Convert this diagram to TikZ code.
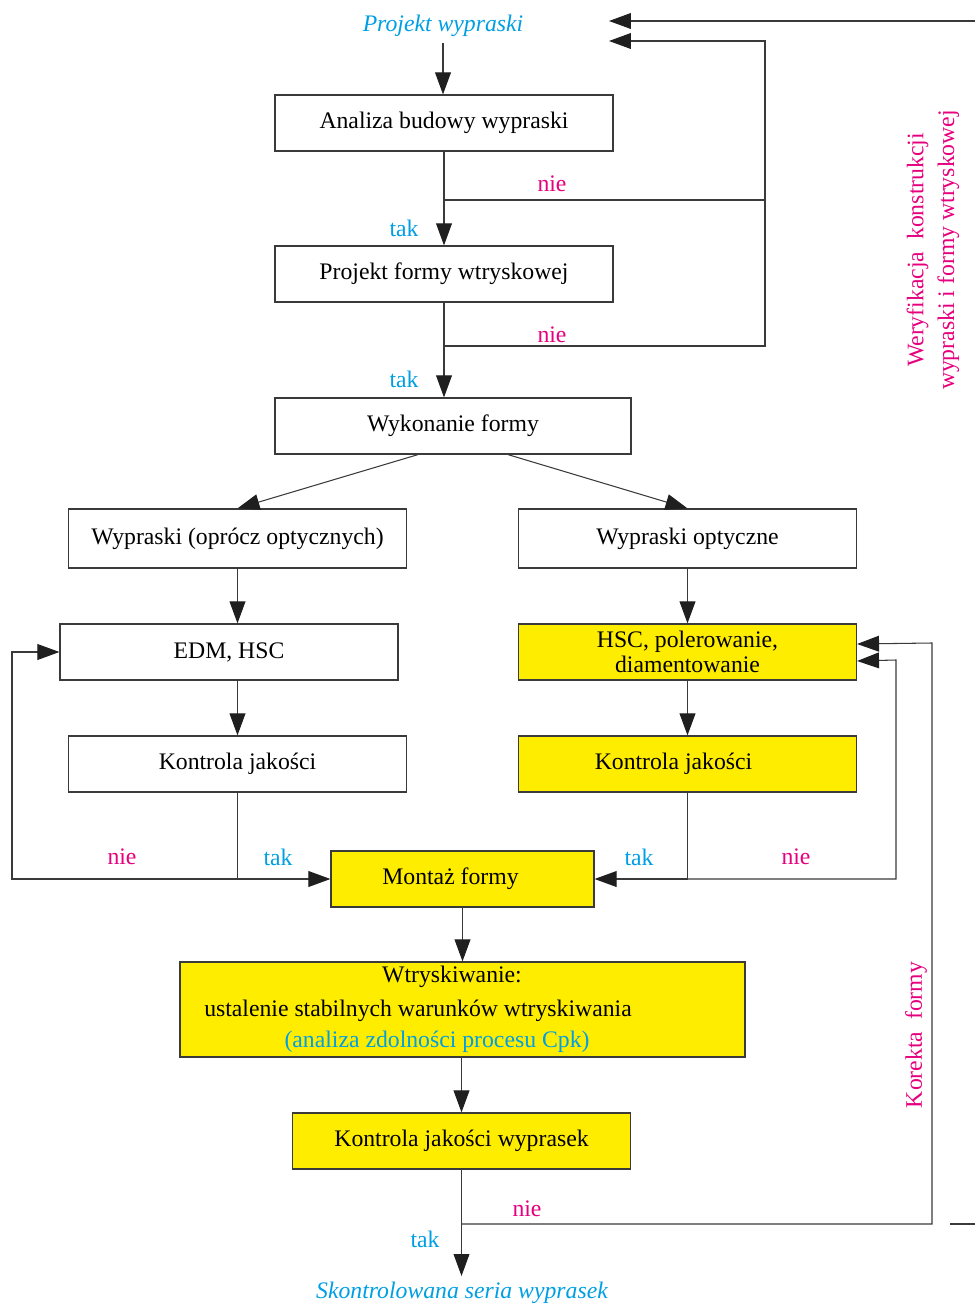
\documentclass[tikz,border=0pt]{standalone}
\usepackage{fontspec}
\setmainfont{Liberation Serif}
\usetikzlibrary{arrows.meta,positioning,calc}
\definecolor{zolty}{HTML}{FFED00}
\definecolor{roz}{HTML}{E6007E}
\definecolor{niebieski}{HTML}{009FE3}
\definecolor{linia}{HTML}{3A3A3A}
\newcommand{\rozm}{\fontsize{13.5}{16}\selectfont}
\tikzset{
  >={Triangle[length=12.5pt,width=9pt,color=black!88]},
  box/.style  = {draw=linia, line width=0.7pt, minimum width=6.76cm, minimum height=1.12cm, inner sep=2pt, align=center},
  boxy/.style = {box, fill=zolty},
  pol/.style  = {draw=linia, line width=0.6pt},
  tak/.style  = {text=niebieski, inner sep=1pt},
  nie/.style  = {text=roz, inner sep=1pt},
  wej/.style  = {text=niebieski, font=\rozm\itshape},
  opis/.style = {text=roz, rotate=90, align=center, font=\fontsize{13.5}{17.5}\selectfont},
  every node/.style = {font=\rozm}
}

\begin{document}
\begin{tikzpicture}[x=0.02cm, y=-0.02cm]
\useasboundingbox (0,0) rectangle (975,1304);

% wejscie i wyjscie
\node[wej] (start) at (443,26) {Projekt wypraski};
\node[wej] (koniec) at (462,1293) {Skontrolowana seria wyprasek};

% konstrukcja
\node[box] (analiza) at (444,123) {Analiza budowy wypraski};
\node[box] (projekt) at (444,274) {Projekt formy wtryskowej};
\node[box, minimum width=7.12cm] (wyk) at (453,426) {Wykonanie formy};

% dwie galezie
\node[box, minimum height=1.18cm] (wypr) at (237.5,538.5) {Wypraski (oprócz optycznych)};
\node[box, minimum height=1.18cm] (wopt) at (687.5,538.5) {Wypraski optyczne};
\node[box] (edm) at (229,652) {EDM, HSC};
\node[boxy] (hsc) at (687.5,652) {HSC, polerowanie,\\[-1.5pt]diamentowanie};
\node[box] (kj1) at (237.5,764) {Kontrola jakości};
\node[boxy] (kj2) at (687.5,764) {Kontrola jakości\hspace*{0.56cm}};

% montaz i wtryskiwanie
\node[boxy, minimum width=5.26cm] (montaz) at (462.5,879) {Montaż formy\hspace*{0.48cm}};
\node[boxy, minimum width=11.3cm, minimum height=1.9cm] (wtrysk) at (462.5,1009.5) {};
\node (w1) at (452,977) {Wtryskiwanie:};
\node (w2) at (418,1011) {ustalenie stabilnych warunków wtryskiwania};
\node[text=niebieski] (w3) at (437,1042) {(analiza zdolności procesu Cpk)};
\node[boxy] (kjw) at (461.5,1141) {Kontrola jakości wyprasek};

% punkty petli
\coordinate (wer0) at (975,21);
\coordinate (wer1) at (609,21);
\coordinate (wer2) at (609,41);
\coordinate (p1) at (765,0);
\coordinate (p2) at (896,0);
\coordinate (p3) at (932,0);
\coordinate (p4) at (12,0);
\coordinate (b1) at (analiza.south |- 0,200);
\coordinate (b2) at (projekt.south |- 0,346);
\coordinate (b3) at (kj1.south |- montaz.west);
\coordinate (b4) at (kj2.south |- montaz.east);
\coordinate (b5) at (kjw.south |- 0,1224);
\coordinate (r1) at (950,1224);
\coordinate (r2) at (975,1224);

% polaczenia
\draw[pol,->] (start) -- (start |- analiza.north);
\draw[pol,->] (analiza) -- (projekt);
\draw[pol,->] (b1) -- (b1 -| p1) -- (p1 |- wer2) -- (wer2);
\draw[pol,->] (projekt.south) -- (projekt.south |- wyk.north);
\draw[pol] (b2) -- (b2 -| p1) -- (p1 |- b1);
\draw[pol,->] (wer0) -- (wer1);

\draw[pol,->] ([xshift=-0.7cm]wyk.south) -- (wypr.north);
\draw[pol,->] ([xshift=1.1cm]wyk.south) -- (wopt.north);
\draw[pol,->] (wypr.south) -- (wypr.south |- edm.north);
\draw[pol,->] (wopt) -- (hsc);
\draw[pol,->] (wypr.south |- edm.south) -- (kj1.north);
\draw[pol,->] (hsc) -- (kj2);

\draw[pol,->] (kj1.south) -- (b3) -- (montaz.west);
\draw[pol,->] (b3) -- (b3 -| p4) -- (p4 |- edm.west) -- (edm.west);
\draw[pol,->] (kj2.south) -- (b4) -- (montaz.east);
\draw[pol,->] (b4) -- (b4 -| p2) -- (p2 |- 0,660) -- ([yshift=-0.18cm]hsc.east);

\draw[pol,->] (montaz) -- (wtrysk);
\draw[pol,->] (kjw.north |- wtrysk.south) -- (kjw.north);
\draw[pol,->] (kjw.south) -- (kjw.south |- koniec.north);
\draw[pol,->] (b5) -- (b5 -| p3) -- (p3 |- 0,643) -- ([yshift=0.16cm]hsc.east);
\draw[pol] (r1) -- (r2);

% etykiety
\node[nie] at (552,184) {nie};
\node[tak] at (404,228) {tak};
\node[nie] at (552,335) {nie};
\node[tak] at (404,379) {tak};
\node[nie] at (122,857) {nie};
\node[tak] at (278,857) {tak};
\node[tak] at (639,857) {tak};
\node[nie] at (796,857) {nie};
\node[nie] at (527,1209) {nie};
\node[tak] at (425,1239) {tak};

\node[opis] (weryf) at (933,250) {Weryfikacja\ \ konstrukcji\\wypraski i formy wtryskowej};
\node[opis] (korekta) at (916,1035) {Korekta\ \ formy};
\end{tikzpicture}
\end{document}
